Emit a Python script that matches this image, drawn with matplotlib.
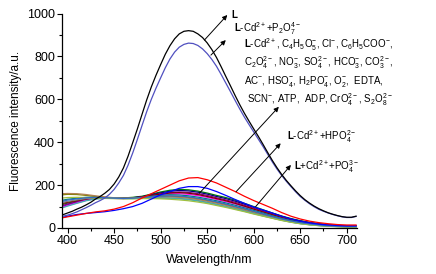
import matplotlib
matplotlib.use("Agg")
import matplotlib.pyplot as plt

plt.rcParams['font.family'] = ['Liberation Sans', 'DejaVu Sans']
plt.rcParams['mathtext.fontset'] = 'custom'
plt.rcParams['mathtext.rm'] = 'Liberation Sans'
plt.rcParams['mathtext.it'] = 'Liberation Sans:italic'
plt.rcParams['mathtext.bf'] = 'Liberation Sans:bold'

# fine grid for the two strong emission curves
wavelength_fine = [395, 400, 405, 410, 415, 420, 425, 430, 435, 440, 445, 450, 455, 460, 465,
                   470, 475, 480, 485, 490, 495, 500, 505, 510, 515, 520, 525, 530, 535, 540,
                   545, 550, 555, 560, 565, 570, 575, 580, 585, 590, 595, 600, 605, 610, 615,
                   620, 625, 630, 635, 640, 645, 650, 655, 660, 665, 670, 675, 680, 685, 690,
                   695, 700, 705, 710]

L_free = [62, 70, 78, 88, 97, 108, 120, 135, 147, 162, 180, 205, 238, 280, 335,
          398, 462, 530, 597, 658, 712, 762, 810, 850, 882, 905, 917, 920, 917, 905,
          888, 863, 832, 795, 752, 707, 663, 618, 575, 535, 498, 462, 427, 390, 352,
          315, 281, 250, 222, 197, 173, 151, 132, 116, 102, 90, 80, 71, 64, 58,
          53, 50, 50, 55]
L_P2O7 = [55, 60, 67, 75, 85, 95, 106, 118, 128, 140, 157, 180, 210, 245, 293,
          350, 413, 478, 542, 600, 652, 700, 747, 788, 820, 843, 856, 862, 860, 851,
          835, 813, 786, 754, 716, 676, 636, 595, 555, 517, 482, 448, 414, 380, 344,
          308, 275, 245, 218, 193, 169, 147, 129, 113, 99, 87, 78, 70, 63, 57,
          52, 49, 49, 54]

wavelength = [395, 400, 410, 420, 430, 440, 450, 460, 470, 480, 490, 500, 510, 520, 530,
              540, 550, 560, 570, 580, 590, 600, 610, 620, 630, 640, 650, 660, 670, 680,
              690, 700, 710]

L_HPO4 = [48, 52, 60, 68, 75, 80, 88, 100, 118, 140, 160, 180, 200, 220, 233,
          235, 225, 210, 190, 170, 148, 128, 110, 92, 72, 55, 42, 32, 25, 20, 16, 14, 14]
L_PO4 = [50, 55, 63, 68, 72, 76, 82, 90, 100, 115, 135, 155, 170, 185, 193,
         193, 185, 170, 152, 133, 115, 98, 84, 70, 55, 42, 32, 24, 18, 14, 12, 10, 10]

others = [
    [110, 116, 125, 134, 140, 141, 140, 140, 143, 148, 158, 168, 176, 180, 178, 172, 163, 152, 142, 130, 115, 100, 85, 70, 56, 44, 34, 26, 20, 15, 12, 10, 10],
    [100, 108, 120, 132, 139, 141, 140, 139, 141, 146, 155, 164, 171, 175, 173, 167, 158, 147, 137, 125, 111, 96, 82, 68, 54, 42, 33, 25, 19, 14, 11, 9, 9],
    [105, 112, 122, 132, 138, 140, 139, 138, 140, 144, 152, 160, 165, 168, 166, 160, 152, 141, 131, 120, 106, 92, 78, 64, 51, 40, 31, 24, 18, 14, 11, 9, 9],
    [98, 105, 117, 129, 137, 139, 138, 137, 139, 143, 149, 155, 159, 160, 157, 151, 143, 133, 123, 112, 99, 86, 73, 60, 48, 37, 29, 22, 16, 12, 10, 8, 8],
    [115, 120, 128, 135, 139, 140, 139, 138, 140, 145, 152, 158, 163, 165, 162, 156, 147, 137, 127, 115, 102, 88, 75, 62, 49, 38, 29, 22, 17, 13, 10, 8, 8],
    [130, 134, 139, 143, 144, 142, 140, 139, 140, 143, 148, 152, 155, 154, 150, 144, 136, 127, 117, 106, 94, 82, 70, 57, 45, 35, 27, 20, 15, 11, 9, 7, 7],
    [155, 157, 156, 152, 147, 143, 140, 139, 140, 142, 145, 147, 148, 146, 142, 136, 128, 119, 109, 98, 87, 75, 63, 51, 40, 31, 23, 17, 13, 10, 8, 6, 6],
    [160, 161, 160, 156, 150, 145, 141, 139, 139, 141, 143, 145, 145, 143, 139, 133, 125, 116, 106, 95, 84, 72, 60, 49, 38, 29, 22, 16, 12, 9, 7, 6, 6],
    [120, 124, 131, 137, 140, 140, 139, 138, 138, 139, 140, 141, 140, 138, 134, 128, 120, 111, 101, 91, 80, 69, 58, 47, 37, 28, 21, 16, 12, 9, 7, 6, 6],
    [95, 102, 115, 127, 135, 138, 138, 137, 137, 138, 139, 139, 138, 136, 132, 126, 118, 109, 99, 89, 78, 67, 56, 46, 36, 27, 20, 15, 11, 8, 7, 5, 5],
    [140, 142, 143, 142, 140, 138, 137, 136, 136, 137, 137, 136, 134, 131, 127, 121, 114, 105, 96, 86, 76, 65, 55, 45, 35, 27, 20, 15, 11, 8, 6, 5, 5],
    [125, 130, 136, 141, 143, 141, 139, 138, 139, 142, 146, 149, 150, 149, 145, 139, 131, 122, 112, 101, 90, 78, 66, 54, 43, 33, 25, 19, 14, 10, 8, 7, 7],
]
other_colors = ['#008000', '#000080', '#800080', '#ff00ff', '#800000', '#008080',
                '#808000', '#b08050', '#808080', '#40b0b0', '#a0c040', '#3169c6']

fig = plt.figure(figsize=(4.36, 2.74), dpi=100)
ax = fig.add_axes([62/436, 1-228/274, (357-62)/436, (228-13.5)/274])

lw = 0.9
for vals, c in zip(others, other_colors):
    ax.plot(wavelength, vals, color=c, lw=lw)
ax.plot(wavelength, L_PO4, color='#0000ff', lw=lw)
ax.plot(wavelength, L_HPO4, color='#ff0000', lw=lw)
ax.plot(wavelength_fine, L_P2O7, color='#5050c0', lw=lw)
ax.plot(wavelength_fine, L_free, color='#000000', lw=lw)

ax.set_xlim(394, 711)
ax.set_ylim(0, 1000)
ax.set_xticks([400, 450, 500, 550, 600, 650, 700])
ax.set_xticks(range(425, 711, 50), minor=True)
ax.set_yticks([0, 200, 400, 600, 800, 1000])
ax.set_yticks(range(100, 1000, 200), minor=True)
ax.tick_params(axis='both', which='major', direction='out', length=3.5, width=0.8, labelsize=9, pad=1.5)
ax.tick_params(axis='both', which='minor', direction='out', length=2, width=0.8)
for s in ['top', 'right']:
    ax.spines[s].set_visible(False)
for s in ['left', 'bottom']:
    ax.spines[s].set_linewidth(0.9)

ax.set_xlabel('Wavelength/nm', fontsize=9, labelpad=5)
ax.set_ylabel('Fluorescence intensity/a.u.', fontsize=8.5, labelpad=4)

fs = 7
arr = dict(arrowstyle='-|>', color='black', lw=0.7, mutation_scale=7, shrinkA=0, shrinkB=0)

ax.annotate('', xy=(571.6, 993), xytext=(547, 876), arrowprops=arr, annotation_clip=False)
ax.text(576, 1000, r'$\mathbf{L}$', fontsize=fs, va='center', ha='left', clip_on=False)

ax.annotate('', xy=(570, 876), xytext=(554, 806), arrowprops=arr, annotation_clip=False)
ax.text(579, 931, r'$\mathbf{L}$-Cd$^{2+}$+P$_2$O$_7^{4-}$', fontsize=fs, va='center', ha='left', clip_on=False)

block = [
    r'$\mathbf{L}$-Cd$^{2+}$, C$_4$H$_5$O$_5^{-}$, Cl$^{-}$, C$_6$H$_5$COO$^{-}$,',
    r'C$_2$O$_4^{2-}$, NO$_3^{-}$, SO$_4^{2-}$, HCO$_3^{-}$, CO$_3^{2-}$,',
    r'AC$^{-}$, HSO$_4^{-}$, H$_2$PO$_4^{-}$, O$_2^{-}$,  EDTA,',
    r'SCN$^{-}$, ATP,  ADP, CrO$_4^{2-}$, S$_2$O$_8^{2-}$',
]
block_x = [590, 590, 590, 593]
block_y = [853, 769, 681, 597]
for t, x, y in zip(block, block_x, block_y):
    ax.text(x, y, t, fontsize=fs, va='center', ha='left', clip_on=False)
ax.annotate('', xy=(627, 565), xytext=(541.6, 162), arrowprops=arr, annotation_clip=False)

ax.annotate('', xy=(629, 395), xytext=(581, 169), arrowprops=arr, annotation_clip=False)
ax.text(636, 424, r'$\mathbf{L}$-Cd$^{2+}$+HPO$_4^{2-}$', fontsize=fs, va='center', ha='left', clip_on=False)

ax.annotate('', xy=(640, 294), xytext=(602, 99), arrowprops=arr, annotation_clip=False)
ax.text(643, 286, r'$\mathbf{L}$+Cd$^{2+}$+PO$_4^{3-}$', fontsize=fs, va='center', ha='left', clip_on=False)

fig.savefig('out.png', dpi=100)
